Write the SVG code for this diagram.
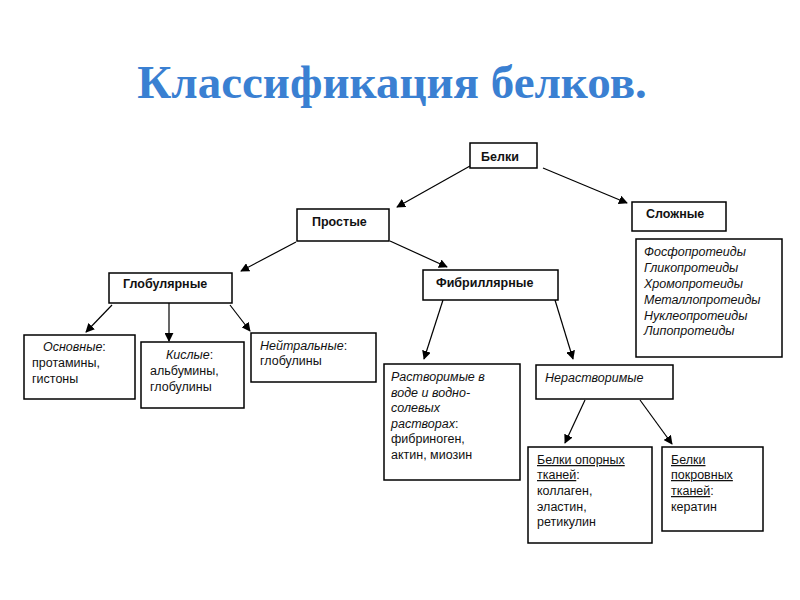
<svg xmlns="http://www.w3.org/2000/svg" width="800" height="600" viewBox="0 0 800 600">
<defs>
<marker id="ah" viewBox="0 0 10 10" refX="9" refY="5" markerWidth="9" markerHeight="9" markerUnits="userSpaceOnUse" orient="auto"><path d="M0,0 L10,5 L0,10 z" fill="#000"/></marker>
<style>
.b{fill:#fff;stroke:#000;stroke-width:1.5}
text{font-family:"Liberation Sans",Arial,sans-serif;font-size:12.5px;fill:#111}
.h{font-weight:bold}
.i{font-style:italic}
.u{text-decoration:underline}
#conn line{stroke:#000;stroke-width:1.2;marker-end:url(#ah)}
</style>
</defs>
<rect width="800" height="600" fill="#fff"/>
<text x="392" y="98" text-anchor="middle" style="font-family:'Liberation Serif','Times New Roman',serif;font-size:47px;font-weight:bold;fill:#3a80d2">Классификация белков.</text>
<g id="conn">
<line x1="470" y1="166" x2="397" y2="207"/>
<line x1="543" y1="168" x2="627" y2="203"/>
<line x1="296" y1="242" x2="241" y2="271"/>
<line x1="390" y1="241" x2="447" y2="267"/>
<line x1="112" y1="305" x2="86" y2="332"/>
<line x1="169" y1="303" x2="169" y2="341"/>
<line x1="230" y1="305" x2="250" y2="331"/>
<line x1="443" y1="300" x2="424" y2="359"/>
<line x1="555" y1="300" x2="573" y2="359"/>
<line x1="585" y1="400" x2="565" y2="443"/>
<line x1="640" y1="400" x2="672" y2="444"/>
</g>
<g id="belki"><rect class="b" x="470" y="143" width="67" height="25"/><text class="h" x="481" y="161">Белки</text></g>
<g id="slozhnye"><rect class="b" x="632" y="202" width="94" height="29"/><text class="h" x="646" y="218">Сложные</text></g>
<g id="slozhnye-list"><rect class="b" x="636" y="239" width="146" height="118"/>
<text class="i" x="644" y="256">Фосфопротеиды</text><text class="i" x="644" y="272">Гликопротеиды</text><text class="i" x="644" y="288">Хромопротеиды</text><text class="i" x="644" y="304">Металлопротеиды</text><text class="i" x="644" y="320">Нуклеопротеиды</text><text class="i" x="644" y="335">Липопротеиды</text></g>
<g id="prostye"><rect class="b" x="297" y="209" width="92" height="32"/><text class="h" x="312" y="226">Простые</text></g>
<g id="globular"><rect class="b" x="109" y="273" width="123" height="30"/><text class="h" x="123" y="288">Глобулярные</text></g>
<g id="fibril"><rect class="b" x="423" y="270" width="135" height="30"/><text class="h" x="436" y="287">Фибриллярные</text></g>
<g id="osnovnye"><rect class="b" x="24" y="335" width="111" height="64"/><text x="43" y="351"><tspan class="i">Основные</tspan>:</text><text x="32" y="367">протамины,</text><text x="32" y="383">гистоны</text></g>
<g id="kislye"><rect class="b" x="141" y="342" width="103" height="66"/><text x="166" y="359"><tspan class="i">Кислые</tspan>:</text><text x="150" y="375">альбумины,</text><text x="150" y="391">глобулины</text></g>
<g id="neitr"><rect class="b" x="251" y="333" width="125" height="49"/><text x="260" y="350"><tspan class="i">Нейтральные</tspan>:</text><text x="260" y="365">глобулины</text></g>
<g id="rastv"><rect class="b" x="384" y="364" width="136" height="116"/>
<text class="i" x="391" y="381">Растворимые в</text><text class="i" x="391" y="397">воде и водно-</text><text class="i" x="391" y="412">солевых</text><text x="391" y="428"><tspan class="i">растворах</tspan>:</text><text x="391" y="443">фибриноген,</text><text x="391" y="459">актин, миозин</text></g>
<g id="nerastv"><rect class="b" x="536" y="365" width="137" height="34"/><text class="i" x="545" y="382">Нерастворимые</text></g>
<g id="opornye"><rect class="b" x="528" y="447" width="124" height="96"/>
<text class="u" x="537" y="464">Белки опорных</text><text x="537" y="479"><tspan class="u">тканей</tspan>:</text><text x="537" y="495">коллаген,</text><text x="537" y="511">эластин,</text><text x="537" y="526">ретикулин</text></g>
<g id="pokrov"><rect class="b" x="662" y="447" width="101" height="84"/>
<text class="u" x="671" y="464">Белки</text><text class="u" x="671" y="479">покровных</text><text x="671" y="495"><tspan class="u">тканей</tspan>:</text><text x="671" y="511">кератин</text></g>
</svg>
